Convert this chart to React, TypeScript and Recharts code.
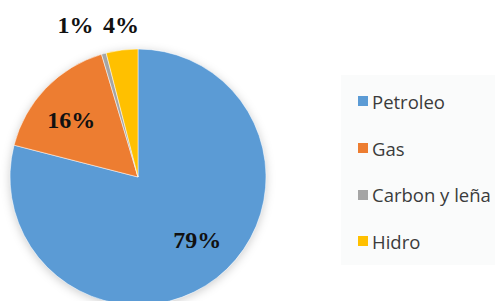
import { Cell, Legend, Pie, PieChart } from "recharts";

const sources = ["Petroleo", "Gas", "Carbon y leña", "Hidro"];
const shares = [79, 16.4, 0.6, 4];
const shareLabels = ["79%", "16%", "1%", "4%"];
const colors = ["#5B9BD5", "#ED7D31", "#A5A5A5", "#FFC000"];

const data = sources.map((name, i) => ({ name, value: shares[i], label: shareLabels[i] }));

const RAD = Math.PI / 180;
// small nudges so the labels sit where the original puts them
const labelNudge = [
  [6, -6],
  [-4, 3],
  [-22, 1],
  [2, 1],
];

function renderLabel(props: any) {
  const { cx, cy, midAngle, outerRadius, index } = props;
  const outside = shares[index] < 5;
  const r = outside ? outerRadius + 24 : outerRadius * 0.68;
  const x = cx + r * Math.cos(-midAngle * RAD) + labelNudge[index][0];
  const y = (outside ? cy - outerRadius - 25 : cy + r * Math.sin(-midAngle * RAD)) + labelNudge[index][1];
  return (
    <text
      x={x}
      y={y}
      textAnchor="middle"
      dominantBaseline="central"
      fill="#111"
      fontFamily="'Liberation Serif', 'Times New Roman', serif"
      fontWeight={700}
      fontSize={24}
    >
      {data[index].label}
    </text>
  );
}

function LegendBox() {
  return (
    <div style={{ paddingTop: 3 }}>
      {data.map((d, i) => (
        <div key={d.name} style={{ display: "flex", alignItems: "center", height: 46.7 }}>
          <span
            style={{
              display: "inline-block",
              width: 10,
              height: 10,
              marginLeft: 17,
              marginRight: 4,
              background: colors[i],
            }}
          />
          <span
            style={{
              fontFamily: "'Open Sans', sans-serif",
              fontSize: 18.5,
              color: "#3b3b3b",
              whiteSpace: "nowrap",
            }}
          >
            {d.name}
          </span>
        </div>
      ))}
    </div>
  );
}

export default function App() {
  return (
    <div style={{ position: "absolute", left: 0, top: 0, background: "#fff" }}>
      <PieChart width={495} height={301} margin={{ top: 0, right: 0, bottom: 0, left: 0 }}>
        <Pie
          data={[{ name: "bg", value: 1 }]}
          dataKey="value"
          cx={138}
          cy={177}
          outerRadius={128}
          startAngle={90}
          endAngle={-270}
          isAnimationActive={false}
          legendType="none"
          stroke="none"
        >
          <Cell fill="#ffffff" style={{ filter: "drop-shadow(0px 2px 5px rgba(0,0,0,0.2))" }} />
        </Pie>
        <Pie
          data={data}
          dataKey="value"
          nameKey="name"
          cx={138}
          cy={177}
          outerRadius={128}
          startAngle={90}
          endAngle={-270}
          isAnimationActive={false}
          label={renderLabel}
          labelLine={false}
          stroke="#ffffff"
          strokeWidth={0.5}
        >
          {data.map((d, i) => (
            <Cell key={d.name} fill={colors[i]} />
          ))}
        </Pie>
        <Legend
          layout="vertical"
          content={<LegendBox />}
          wrapperStyle={{
            position: "absolute",
            left: 341,
            top: 75,
            width: 154,
            height: 190,
            background: "#FAFBFB",
          }}
        />
      </PieChart>
    </div>
  );
}
